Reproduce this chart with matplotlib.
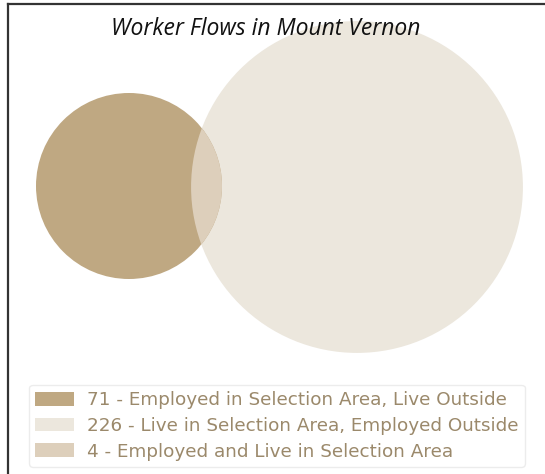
import matplotlib
matplotlib.use("Agg")
import matplotlib.pyplot as plt
from matplotlib.patches import Circle, Patch
from matplotlib.lines import Line2D
import numpy as np

# Data
labels = ["Employed in Selection Area, Live Outside",
          "Live in Selection Area, Employed Outside",
          "Employed and Live in Selection Area"]
values = [71, 226, 4]
colors = ["#bfa882", "#ece7dd", "#ddcfbb"]
title = "Worker Flows in Mount Vernon"

W, H = 545, 474
fig = plt.figure(figsize=(W / 100, H / 100), dpi=100)
ax = fig.add_axes([0, 0, 1, 1])
ax.set_xlim(0, W)
ax.set_ylim(H, 0)
ax.set_aspect("equal")
ax.axis("off")

# layout (pixels)
scale = 93 / np.sqrt(values[0])
r_small = scale * np.sqrt(values[0])
r_big = scale * np.sqrt(values[1])
c_small = (129, 186)
c_big = (357, 187)

big = Circle(c_big, r_big, facecolor=colors[1], edgecolor="none", zorder=1)
ax.add_patch(big)
small = Circle(c_small, r_small, facecolor=colors[0], edgecolor="none", zorder=2)
ax.add_patch(small)
lens = Circle(c_small, r_small, facecolor=colors[2], edgecolor="none", zorder=3)
ax.add_patch(lens)
lens.set_clip_path(big)

ax.text(266, 29, title, ha="center", va="center", fontsize=16.5,
        fontstyle="italic", family="Open Sans", color="#111111")

handles = [Patch(facecolor=c, edgecolor="none") for c in colors]
leg_labels = [f"{v} - {l}" for v, l in zip(values, labels)]
leg = ax.legend(handles, leg_labels, loc="lower left",
                bbox_to_anchor=(29 / W, 1 - 467 / H), bbox_transform=fig.transFigure,
                fontsize=13.2, frameon=True, fancybox=True, handlelength=2.1,
                handleheight=0.78, handletextpad=0.7, labelspacing=0.42,
                borderpad=0.35, borderaxespad=0)
leg.get_frame().set_edgecolor("#e8e8e8")
leg.get_frame().set_linewidth(1.0)
for t in leg.get_texts():
    t.set_color("#9b896b")

# outer frame (cropped)
fig.add_artist(Line2D([8 / W, 1], [1 - 4 / H, 1 - 4 / H], transform=fig.transFigure,
                      color="#333333", lw=1.6))
fig.add_artist(Line2D([8 / W, 8 / W], [0, 1 - 4 / H], transform=fig.transFigure,
                      color="#333333", lw=1.6))

fig.savefig("out.png", dpi=100)
